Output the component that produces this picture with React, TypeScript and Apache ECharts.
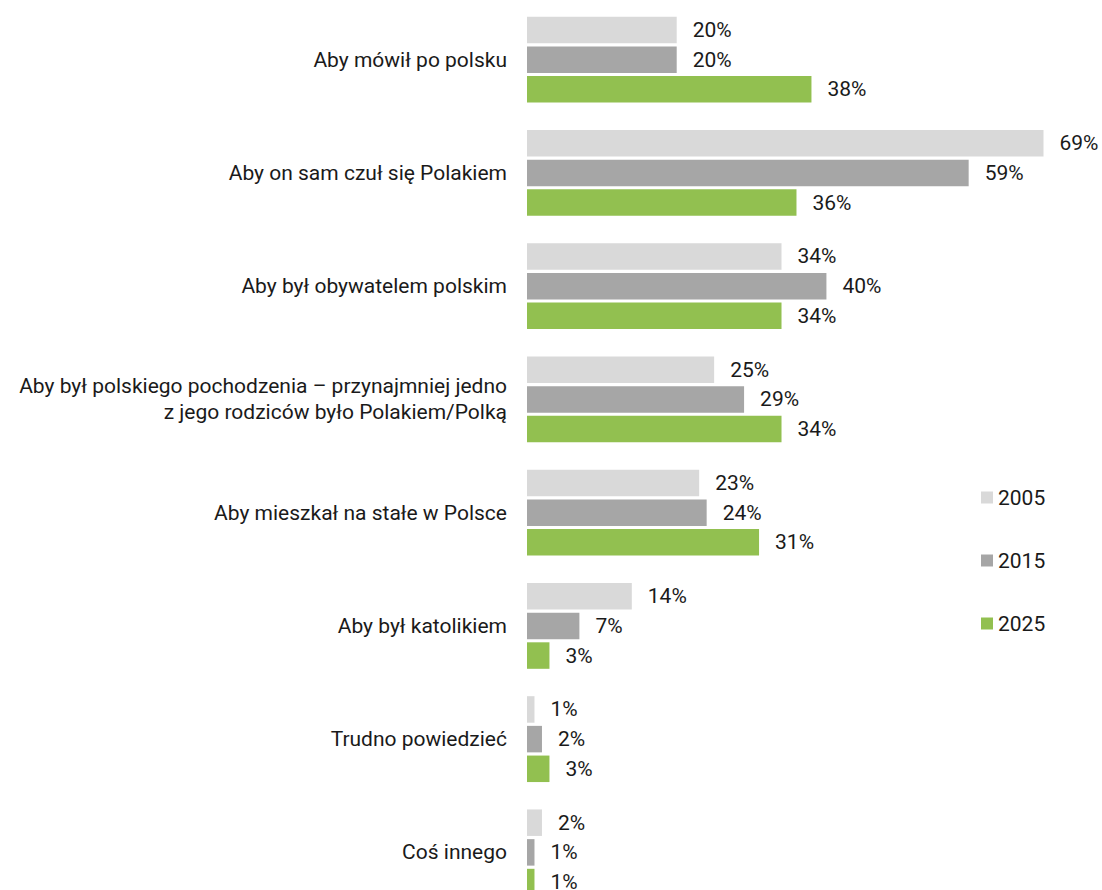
import React, { useEffect, useRef } from "react";
import * as echarts from "echarts";

const categories = [
  "Aby mówił po polsku",
  "Aby on sam czuł się Polakiem",
  "Aby był obywatelem polskim",
  "Aby był polskiego pochodzenia – przynajmniej jedno\nz jego rodziców było Polakiem/Polką",
  "Aby mieszkał na stałe w Polsce",
  "Aby był katolikiem",
  "Trudno powiedzieć",
  "Coś innego",
];
const seriesNames = ["2005", "2015", "2025"];
const values2005 = [20, 69, 34, 25, 23, 14, 1, 2];
const values2015 = [20, 59, 40, 29, 24, 7, 2, 1];
const values2025 = [38, 36, 34, 34, 31, 3, 3, 1];
const colors = ["#d9d9d9", "#a6a6a6", "#92c050"];

const FONT = "Roboto";
const TEXT = "#1a1a1a";
const FS = 21;

export default function App() {
  const ref = useRef<HTMLDivElement>(null);
  useEffect(() => {
    document.body.style.margin = "0";
    document.body.style.overflow = "hidden";
    const chart = echarts.init(ref.current!, null, { renderer: "svg" });
    const data = [values2005, values2015, values2025];
    chart.setOption({
      animation: false,
      textStyle: { fontFamily: FONT },
      grid: { left: 527, right: 51, top: 3, bottom: 1, containLabel: false },
      legend: {
        orient: "vertical",
        left: 976,
        top: 482,
        itemWidth: 12,
        itemHeight: 12,
        itemGap: 42,
        icon: "rect",
        textStyle: { fontFamily: FONT, fontSize: FS, color: TEXT },
        data: seriesNames,
      },
      xAxis: {
        type: "value",
        min: 0,
        max: 70,
        show: false,
      },
      yAxis: {
        type: "category",
        inverse: true,
        data: categories,
        axisLine: { show: false },
        axisTick: { show: false },
        axisLabel: {
          margin: 20,
          fontFamily: FONT,
          fontSize: FS,
          color: TEXT,
          align: "right",
          lineHeight: 26,
        },
      },
      series: seriesNames.map((name, i) => ({
        name,
        type: "bar",
        data: data[i],
        barWidth: 26.5,
        barGap: "12%",
        itemStyle: { color: colors[i] },
        label: {
          show: true,
          position: "right",
          distance: 16,
          formatter: "{c}%",
          fontFamily: FONT,
          fontSize: FS,
          color: TEXT,
        },
      })),
    });
    return () => chart.dispose();
  }, []);
  return <div ref={ref} style={{ width: 1102, height: 910 }} />;
}
